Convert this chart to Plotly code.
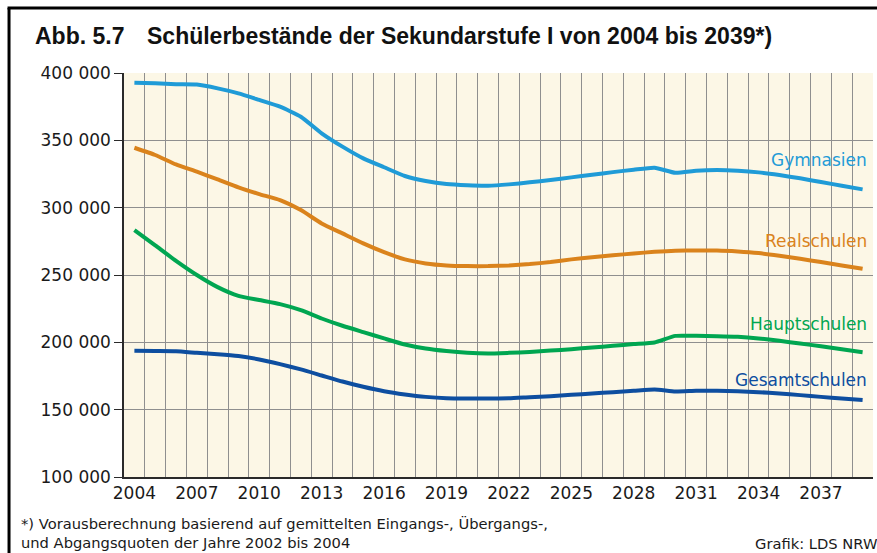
import plotly.graph_objects as go

# ---------------- data ----------------
years = list(range(2004, 2040))

gymnasien = [392800, 392300, 391600, 391400, 388600, 384900, 380000, 375000, 367500,
             355200, 345300, 336600, 330000, 323500, 319800, 317500, 316600, 316300,
             317300, 318800, 320500, 322500, 324400, 326400, 328200, 329700, 325900,
             327400, 327900, 327400, 326200, 324200, 321800, 319000, 316300, 313600]

realschulen = [344500, 339100, 332100, 326700, 321000, 315100, 310100, 305600, 298200,
               288300, 280900, 273500, 267000, 261600, 258600, 257100, 256600, 256600,
               257100, 258100, 259600, 261600, 263100, 264600, 266000, 267200, 268000,
               268200, 268200, 267500, 266300, 264300, 262000, 259600, 257100, 254600]

hauptschulen = [283400, 272000, 260500, 250000, 241000, 234500, 231400, 228400, 223900,
                217700, 212300, 207600, 202900, 198400, 195400, 193500, 192200, 191700,
                192200, 192900, 193900, 194900, 196200, 197400, 198700, 199900, 204800,
                204800, 204600, 204100, 202900, 201100, 199100, 197100, 194900, 192700]

gesamtschulen = [193700, 193500, 193300, 192200, 191200, 189800, 187300, 183800, 179900,
                 175400, 170900, 167000, 163700, 161300, 159500, 158500, 158300, 158300,
                 158500, 159300, 160000, 161000, 162000, 163000, 164000, 165000, 163500,
                 164000, 164000, 163700, 163000, 162000, 160800, 159500, 158300, 157100]

series_names = ["Gymnasien", "Realschulen", "Hauptschulen", "Gesamtschulen"]
series_values = [gymnasien, realschulen, hauptschulen, gesamtschulen]
series_colors = ["#1f9bd7", "#da831c", "#00a651", "#0d4ea0"]
label_levels = [335400, 275400, 213500, 172400]

x_tick_years = [2004, 2007, 2010, 2013, 2016, 2019, 2022, 2025, 2028, 2031, 2034, 2037]
y_tick_values = [100000, 150000, 200000, 250000, 300000, 350000, 400000]

title_prefix = "Abb. 5.7"
title_text = "Schülerbestände der Sekundarstufe I von 2004 bis 2039*)"
footnote = "*) Vorausberechnung basierend auf gemittelten Eingangs-, Übergangs-,<br>und Abgangsquoten der Jahre 2002 bis 2004"
source_text = "Grafik: LDS NRW"

# ---------------- figure ----------------
fig = go.Figure()
for name, vals, col in zip(series_names, series_values, series_colors):
    fig.add_trace(go.Scatter(x=years, y=vals, mode="lines", name=name,
                             line=dict(color=col, width=4, shape="spline", smoothing=0.5),
                             showlegend=False, hoverinfo="x+y+name"))

grid_col = "#8f8f8f"
axis_col = "#2a2a2a"
x_range = [years[0] - 0.5, years[-1] + 0.5]

fig.update_layout(
    width=877, height=553,
    margin=dict(l=124, r=4, t=73, b=76),
    paper_bgcolor="white",
    plot_bgcolor="#fcf7e6",
    separators=", ",
    font=dict(family="DejaVu Sans", size=16, color="#1a1a1a"),
    showlegend=False,
    xaxis=dict(
        range=x_range, tickmode="linear", tick0=x_tick_years[0], dtick=3,
        ticks="", showgrid=False, zeroline=False,
        showline=True, linecolor=axis_col, linewidth=1.5,
        tickfont=dict(size=17, family="DejaVu Sans", color="#1a1a1a"),
        minor=dict(tick0=years[0] - 0.5, dtick=1, showgrid=True,
                   gridcolor=grid_col, gridwidth=1, ticks=""),
    ),
    xaxis2=dict(
        overlaying="x", anchor="y", side="bottom", range=x_range,
        tickmode="linear", tick0=years[0] + 1.5, dtick=3,
        ticks="outside", ticklen=8, tickwidth=1.3, tickcolor=axis_col,
        showticklabels=False, showgrid=False, zeroline=False, showline=False,
    ),
    yaxis=dict(
        range=[y_tick_values[0], y_tick_values[-1]], tickvals=y_tick_values,
        tickformat=",", ticks="outside", ticklen=8, tickwidth=1.3, tickcolor=axis_col,
        showline=True, linecolor=axis_col, linewidth=1.5,
        showgrid=True, gridcolor=grid_col, gridwidth=1, zeroline=False,
        tickfont=dict(size=17, family="DejaVu Sans", color="#1a1a1a"),
    ),
)

# series labels at right
for name, lvl, col in zip(series_names, label_levels, series_colors):
    fig.add_annotation(x=x_range[1] - 0.2, y=lvl, xref="x", yref="y", text=name,
                       showarrow=False, xanchor="right", yanchor="middle",
                       font=dict(family="DejaVu Sans", size=17, color=col))

# title
fig.add_annotation(x=-0.1215, y=1.091, xref="paper", yref="paper", text=title_prefix,
                   showarrow=False, xanchor="left", yanchor="middle",
                   font=dict(family="Liberation Sans", size=23, color="#111", weight="bold"))
fig.add_annotation(x=0.0285, y=1.091, xref="paper", yref="paper", text=title_text,
                   showarrow=False, xanchor="left", yanchor="middle",
                   font=dict(family="Liberation Sans", size=23, color="#111", weight="bold"))

# footnote and source
fig.add_annotation(x=-0.14, y=-0.089, xref="paper", yref="paper", text=footnote,
                   showarrow=False, xanchor="left", yanchor="top", align="left",
                   font=dict(family="DejaVu Sans", size=14.7, color="#1a1a1a"))
fig.add_annotation(x=1.0093, y=-0.139, xref="paper", yref="paper", text=source_text,
                   showarrow=False, xanchor="right", yanchor="top", align="right",
                   font=dict(family="DejaVu Sans", size=14.7, color="#1a1a1a"))

# frame (left and top edges visible)
fig.add_shape(type="line", xref="paper", yref="paper", x0=-0.1535, x1=-0.1535,
              y0=-0.25, y1=1.161, line=dict(color="black", width=3))
fig.add_shape(type="line", xref="paper", yref="paper", x0=-0.1555, x1=1.05,
              y0=1.161, y1=1.161, line=dict(color="black", width=3))

fig.write_html("out.html", config={"displayModeBar": False},
               post_script="document.body.style.margin='0';document.body.style.overflow='hidden';")
